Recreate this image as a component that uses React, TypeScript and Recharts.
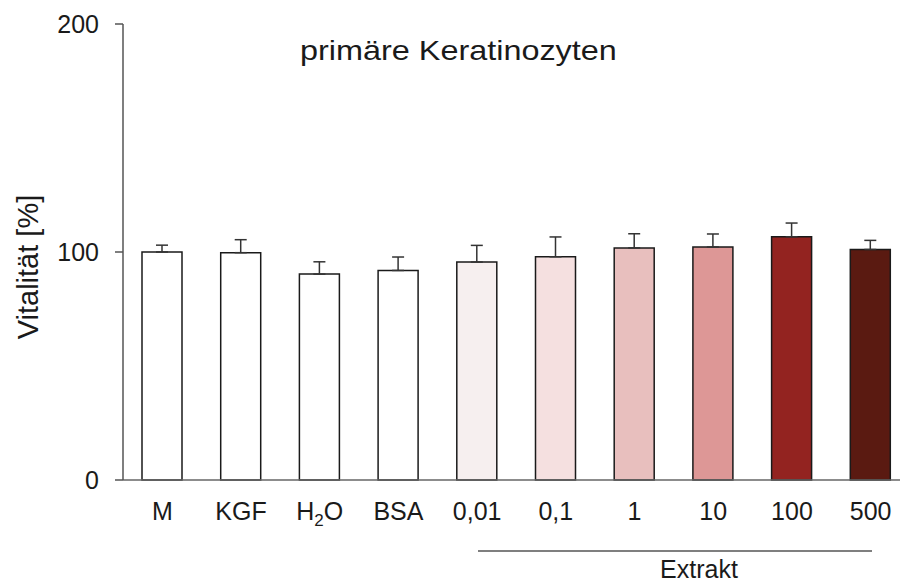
import React from 'react';
import { BarChart, Bar, XAxis, YAxis, ErrorBar, Cell } from 'recharts';

const categories = ['M', 'KGF', 'H2O', 'BSA', '0,01', '0,1', '1', '10', '100', '500'];
const vitality = [100, 99.7, 90.3, 91.9, 95.6, 97.9, 101.8, 102.2, 106.7, 101.1];
const errors = [3, 5.7, 5.4, 5.9, 7.3, 8.7, 6.2, 5.7, 6, 4];
const fills = ['#ffffff', '#ffffff', '#ffffff', '#ffffff', '#f6efef', '#f5e0e0', '#e8bfbe', '#dd9796', '#932320', '#5a1a11'];
const yTicks = [0, 100, 200];

const data = categories.map((c, i) => ({ name: c, value: vitality[i], err: [0, errors[i]] }));

const TEXT = '#1a1a1a';
const FONT = '"Liberation Sans", Arial, sans-serif';

const XTick = (props: any) => {
  const { x, y, payload } = props;
  const v = payload.value as string;
  if (v === 'H2O') {
    return (
      <text x={x} y={y + 32} textAnchor="middle" fontSize={25} fill={TEXT} fontFamily={FONT}>
        <tspan>H</tspan>
        <tspan fontSize={17} dy={6}>2</tspan>
        <tspan dy={-6}>O</tspan>
      </text>
    );
  }
  return (
    <text x={x} y={y + 32} textAnchor="middle" fontSize={25} fill={TEXT} fontFamily={FONT}>
      {v}
    </text>
  );
};

export default function App() {
  return (
    <div style={{ position: 'absolute', left: 0, top: 0, width: 900, height: 585, overflow: 'hidden', background: '#fff' }}>
      <BarChart
        width={920}
        height={585}
        data={data}
        margin={{ top: 24, right: 10, left: 0, bottom: 45 }}
        barSize={40}
      >
        <XAxis
          dataKey="name"
          height={60}
          tickLine={false}
          axisLine={{ stroke: '#666', strokeWidth: 1.5 }}
          tick={<XTick />}
          interval={0}
        />
        <YAxis
          width={123}
          domain={[0, 200]}
          ticks={yTicks}
          tickSize={8}
          tickMargin={16}
          axisLine={{ stroke: '#555', strokeWidth: 1.5 }}
          tickLine={{ stroke: '#555', strokeWidth: 1.5 }}
          tick={{ fontSize: 25, fill: TEXT, fontFamily: FONT }}
        />
        <Bar dataKey="value" stroke="#1a1a1a" strokeWidth={1.5} isAnimationActive={false}>
          {data.map((d, i) => (
            <Cell key={d.name} fill={fills[i]} />
          ))}
          <ErrorBar dataKey="err" width={6} stroke="#333" strokeWidth={1.5} direction="y" />
        </Bar>
      </BarChart>
      <svg
        width={900}
        height={585}
        style={{ position: 'absolute', left: 0, top: 0, pointerEvents: 'none' }}
      >
        <text
          x={250}
          y={60}
          fontSize={27}
          fill={TEXT}
          fontFamily={FONT}
          transform="scale(1.2,1)"
        >
          primäre Keratinozyten
        </text>
        <text
          x={27.5}
          y={267}
          fontSize={29}
          fill={TEXT}
          fontFamily={FONT}
          textAnchor="middle"
          dominantBaseline="central"
          transform="rotate(-90, 27.5, 267)"
        >
          Vitalität [%]
        </text>
        <line x1={478} y1={551} x2={872} y2={551} stroke="#555" strokeWidth={1.5} />
        <text x={699} y={578} fontSize={25} fill={TEXT} fontFamily={FONT} textAnchor="middle">
          Extrakt
        </text>
      </svg>
    </div>
  );
}
